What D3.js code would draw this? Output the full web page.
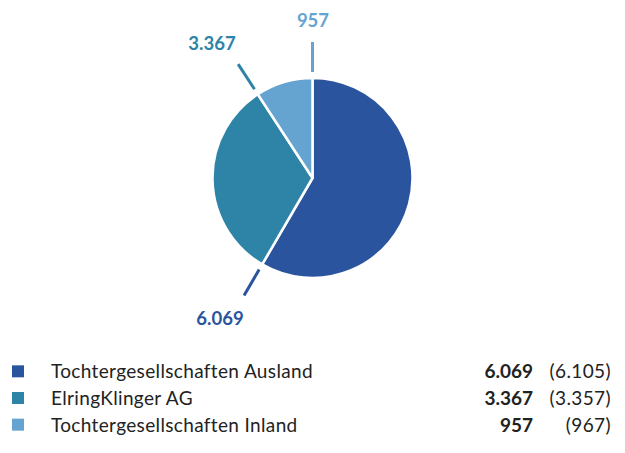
<!DOCTYPE html>
<html><head><meta charset="utf-8">
<script src="https://cdn.jsdelivr.net/npm/d3@7"></script>
<style>body{margin:0;background:#fff}svg{display:block}</style>
</head><body>
<svg id="c" width="625" height="453"></svg>
<script>
const categories = ["Tochtergesellschaften Ausland", "ElringKlinger AG", "Tochtergesellschaften Inland"];
const values = [6069, 3367, 957];
const valueLabels = ["6.069", "3.367", "957"];
const priorLabels = ["(6.105)", "(3.357)", "(967)"];
const colors = ["#2a559e", "#2e84a7", "#65a4d1"];

const svg = d3.select("#c");
const cx = 312.5, cy = 178, r = 100;
const g = svg.append("g").attr("transform", `translate(${cx},${cy})`);
const pie = d3.pie().sort(null).value(d => d)(values);
const arc = d3.arc().innerRadius(0).outerRadius(r);
g.selectAll("path.s").data(pie).join("path").attr("class","s")
  .attr("d", arc).attr("fill", (d,i) => colors[i])
  .attr("stroke", "#fff").attr("stroke-width", 2.5).attr("stroke-linejoin","round");

// leader lines at slice end angles
const pt = (a, rr) => [Math.sin(a) * rr, -Math.cos(a) * rr];
pie.forEach((d, i) => {
  const a = d.endAngle;
  const p1 = pt(a, 106), p2 = pt(a, 136);
  g.append("line").attr("x1", p1[0]).attr("y1", p1[1]).attr("x2", p2[0]).attr("y2", p2[1])
    .attr("stroke", colors[i]).attr("stroke-width", 3);
});
// labels
const lblPos = [[220, 325], [212, 50], [313, 27]];
lblPos.forEach((p, i) => {
  svg.append("text").attr("x", p[0]).attr("y", p[1]).attr("text-anchor", "middle")
    .attr("font-family", "Lato, sans-serif").attr("font-weight", 700).attr("font-size", 18.5)
    .attr("fill", colors[i]).text(valueLabels[i]);
});

// legend
const rowY = d3.scaleBand().domain(categories).range([358, 438]);
const lg = svg.append("g").attr("font-family", "Lato, sans-serif").attr("font-size", 19).attr("fill", "#222");
categories.forEach((c, i) => {
  const y = rowY(c) + rowY.bandwidth() / 2;
  lg.append("rect").attr("x", 12).attr("y", y - 6).attr("width", 12).attr("height", 12).attr("fill", colors[i]);
  lg.append("text").attr("x", 51).attr("y", y + 7).attr("letter-spacing", 0.35).text(c);
  lg.append("text").attr("x", 533).attr("y", y + 7).attr("text-anchor", "end").attr("font-weight", 700).text(valueLabels[i]);
  lg.append("text").attr("x", 611).attr("y", y + 7).attr("text-anchor", "end").attr("letter-spacing", 0.4).text(priorLabels[i]);
});
</script>
</body></html>
